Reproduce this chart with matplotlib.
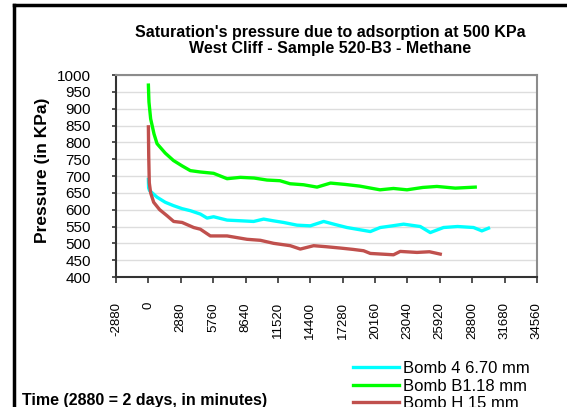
import numpy as np
import matplotlib
matplotlib.use("Agg")
import matplotlib.pyplot as plt
from matplotlib.lines import Line2D

plt.rcParams['font.family'] = ['Liberation Sans', 'DejaVu Sans']

# time in minutes, pressure in KPa
t_cyan = [0, 20, 100, 770, 1500, 2230, 3000, 3730, 4620, 5220, 5800, 7000, 8200, 9360,
          10250, 11100, 12030, 13220, 14400, 15590, 16600, 17660, 18700, 19740, 20620,
          21700, 22700, 24180, 25070, 26250, 27500, 28920, 29660, 30250]
p_cyan = [690, 665, 657, 637, 622, 612, 603, 597, 587, 575, 579, 569, 567, 565,
          572, 567, 562, 554, 552, 565, 556, 547, 541, 535, 547, 552, 557, 550, 532,
          547, 550, 547, 537, 545]

t_green = [0, 50, 200, 500, 770, 1500, 2230, 3000, 3730, 4600, 5800, 7000, 8180, 9400,
           10550, 11700, 12600, 13800, 15000, 16200, 17500, 18800, 20600, 21800, 23000,
           24400, 25660, 27300, 29070]
p_green = [970, 920, 870, 825, 796, 768, 746, 730, 716, 712, 708, 692, 696, 694,
           688, 686, 677, 674, 667, 679, 675, 670, 659, 663, 659, 666, 669, 664, 667]

t_red = [0, 30, 80, 200, 470, 1000, 1660, 2250, 3000, 4030, 4620, 5510, 7000, 8770,
         9960, 11140, 12620, 13510, 14700, 15800, 17070, 18200, 19140, 19740, 21800,
         22400, 23890, 25000, 25960]
p_red = [846, 760, 680, 650, 622, 600, 582, 565, 562, 547, 542, 522, 522, 512,
         509, 500, 493, 483, 493, 490, 486, 482, 478, 470, 466, 476, 473, 475, 468]

labels = ["Bomb 4 6.70 mm", "Bomb B1.18 mm", "Bomb H 15 mm"]
colors = ["#00FFFF", "#00FF00", "#C0504D"]

xticks = np.arange(-2880, 34561, 2880)
yticks = np.arange(400, 1001, 50)

fig = plt.figure(figsize=(5.67, 4.07), dpi=100)
ax = fig.add_axes([0.2046, 0.3194, 0.7424, 0.4963])

ax.plot(t_cyan, p_cyan, color=colors[0], linewidth=2.4, label=labels[0])
ax.plot(t_green, p_green, color=colors[1], linewidth=2.4, label=labels[1])
ax.plot(t_red, p_red, color=colors[2], linewidth=2.4, label=labels[2])

ax.set_xlim(-2880, 34560)
ax.set_ylim(400, 1000)
ax.set_xticks(xticks)
ax.set_xticklabels([str(v) for v in xticks], rotation=90, fontsize=9.5)
ax.set_yticks(yticks)
ax.set_yticklabels([str(v) for v in yticks], fontsize=11)
ax.tick_params(direction='out', length=4, width=1.2, color='#333333', pad=14, axis='x')
ax.tick_params(direction='out', length=3, width=1.2, color='#333333', pad=15, axis='y')
ax.grid(True, axis='y', color='#dddddd', linewidth=1)
ax.set_axisbelow(True)
for side in ['left', 'bottom']:
    ax.spines[side].set_color('#333333')
    ax.spines[side].set_linewidth(1.5)
for side in ['top', 'right']:
    ax.spines[side].set_color('#8c8c8c')
    ax.spines[side].set_linewidth(1.5)

fig.text(0.582, 0.900, "Saturation's pressure due to adsorption at 500 KPa\nWest Cliff - Sample 520-B3 - Methane",
         ha='center', va='center', fontsize=11.5, fontweight='bold', linespacing=1.05)
fig.text(0.075, 0.582, "Pressure (in KPa)", rotation=90, ha='center', va='center',
         fontsize=12.5, fontweight='bold')
fig.text(0.039, 0.017, "Time (2880 = 2 days, in minutes)", ha='left', va='center',
         fontsize=11.5, fontweight='bold')

fig.legend(loc='upper left', bbox_to_anchor=(0.622, 0.113), frameon=False, fontsize=12,
           labelspacing=0.15, handlelength=2.8, handletextpad=0.2, borderpad=0, borderaxespad=0)

# outer frame of the chart area
fig.add_artist(Line2D([0.0247, 0.0247], [0, 0.9877], color='black', linewidth=2.5))
fig.add_artist(Line2D([0.0247, 0.998], [0.9877, 0.9877], color='black', linewidth=2.5))

fig.savefig("out.png", dpi=100)
